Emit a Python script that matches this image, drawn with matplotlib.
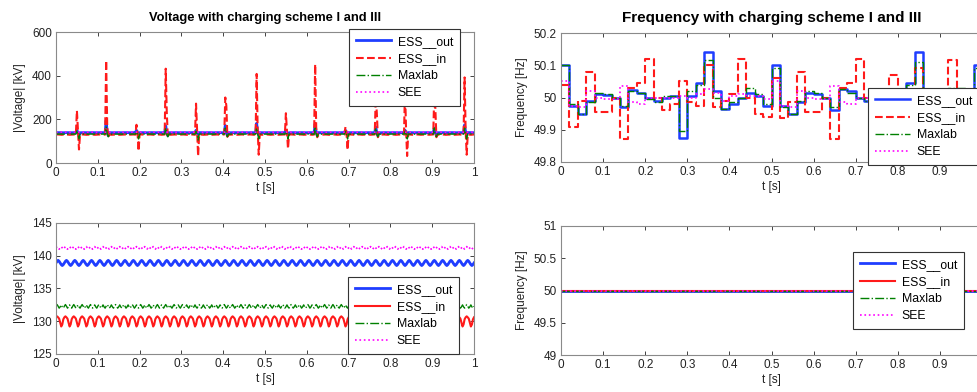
import matplotlib
matplotlib.use("Agg")
import matplotlib.pyplot as plt
import numpy as np
from matplotlib.ticker import FormatStrFormatter

plt.rcParams['font.family'] = ['Liberation Sans', 'DejaVu Sans']

# ---- voltage data ----
# one 20 ms ripple cycle per series, 8 samples
out_cycle = [138.9, 139.15, 139.3, 139.15, 138.9, 138.65, 138.5, 138.65]
in_cycle = [130.6, 130.75, 130.6, 130.4, 129.8, 129.2, 129.5, 130.3]
max_cycle = [132.3, 132.55, 132.3, 132.0, 132.2, 132.5, 132.2, 132.0]
see_cycle = [141.2, 141.4, 141.2, 141.0, 141.2, 141.4, 141.2, 141.0]

# switching spikes seen in the upper voltage plot
spike_t = [0.050, 0.120, 0.193, 0.263, 0.336, 0.405, 0.479,
           0.550, 0.620, 0.693, 0.764, 0.836, 0.905, 0.977]
in_up = [240, 470, 175, 432, 272, 300, 408, 228, 452, 165, 300, 340, 320, 392]
in_up2 = [150, 170, 140, 232, 150, 262, 150, 150, 160, 140, 230, 150, 252, 150]
in_down = [62, 115, 55, 120, 32, 120, 38, 65, 118, 60, 118, 32, 118, 38]
out_up = [150, 195, 150, 170, 150, 172, 182, 150, 180, 150, 165, 150, 160, 175]
out_down = [128, 125, 128, 125, 128, 125, 128, 128, 125, 128, 125, 128, 125, 128]
max_up = [150, 165, 145, 160, 145, 160, 160, 145, 165, 145, 160, 145, 160, 160]
max_down = [110, 120, 110, 120, 105, 120, 110, 110, 120, 110, 120, 105, 120, 110]

# ---- frequency data, 20 ms steps ----
f_edges = np.linspace(0, 1, 51)
f_out = [50.10, 49.975, 49.95, 49.99, 50.01, 50.008, 50.0, 49.97, 50.022, 50.015,
         50.0, 49.99, 50.0, 50.005, 49.875, 50.005, 50.045, 50.14, 50.02, 49.965,
         49.98, 50.0, 50.015, 50.005, 49.975, 50.10, 49.975, 49.95, 49.985, 50.015,
         50.01, 50.0, 49.96, 50.025, 50.02, 50.0, 49.99, 50.0, 50.005, 49.875,
         50.005, 50.045, 50.14, 50.02, 49.965, 49.98, 50.0, 50.015, 50.005, 50.10]
f_in = [50.04, 49.91, 49.99, 50.08, 49.955, 49.955, 50.0, 49.87, 50.03, 50.045,
        50.12, 50.0, 49.96, 49.98, 50.05, 49.985, 49.975, 50.10, 49.97, 49.99,
        50.01, 50.12, 50.0, 49.95, 49.94, 50.06, 49.935, 49.985, 50.078, 49.955,
        49.955, 50.0, 49.87, 50.03, 50.045, 50.12, 50.0, 49.96, 49.98, 50.07,
        49.985, 49.975, 50.09, 49.97, 49.99, 50.01, 50.115, 50.0, 49.95, 49.94]
f_max = [50.10, 49.98, 49.95, 49.985, 50.015, 50.01, 50.0, 49.975, 50.02, 50.015,
         49.995, 49.985, 50.005, 50.005, 49.895, 50.02, 50.04, 50.115, 50.0, 49.965,
         49.985, 50.0, 50.03, 50.01, 49.98, 50.09, 49.97, 49.95, 49.99, 50.02,
         50.015, 50.0, 49.97, 50.025, 50.015, 50.0, 49.99, 50.005, 50.005, 49.895,
         50.02, 50.04, 50.11, 50.0, 49.965, 49.985, 50.03, 50.03, 50.0, 50.09]
f_see = [50.05, 49.975, 49.97, 50.02, 50.0, 49.995, 49.995, 50.035, 49.985, 49.98,
         50.0, 50.0, 50.0, 50.0, 50.005, 50.0, 50.01, 50.025, 50.015, 49.99,
         50.005, 50.01, 50.005, 50.005, 49.995, 50.05, 49.975, 49.97, 50.02, 50.0,
         49.995, 49.995, 50.035, 49.985, 49.98, 50.0, 50.0, 50.0, 50.0, 50.005,
         50.0, 50.01, 50.025, 50.015, 49.99, 50.005, 50.01, 50.005, 50.005, 49.995]

# scheme III frequency: flat at nominal
t_flat = [0, 1]
f_flat = [50, 50]

labels = ['ESS__out', 'ESS__in', 'Maxlab', 'SEE']
c_out, c_in, c_max, c_see = '#1f3dff', '#ff1a1a', '#008000', '#ff00ff'

# sample grid for voltage: 2.5 ms, 8 samples per ripple cycle
t = np.linspace(0, 1, 401)


def ripple(cycle):
    return np.tile(cycle, 51)[:len(t)].astype(float)


def with_spikes(y, up, down, up2=None):
    y = y.copy()
    for k, ts in enumerate(spike_t):
        i = int(round(ts / 0.0025))
        y[i] = up[k]
        y[i + 1] = up2[k] if up2 is not None else y[i + 1]
        y[i + 2] = down[k]
    return y


fig = plt.figure(figsize=(9.77, 3.92), dpi=100)
W, H = 977.0, 392.0


def px_axes(l, t_, r, b):
    return fig.add_axes([l / W, 1 - b / H, (r - l) / W, (b - t_) / H])


def style(ax, ylim, yticks, ylabel, xmax_tick=1.0):
    ax.set_xlim(0, 1)
    ax.set_xticks(np.round(np.arange(0, xmax_tick + 0.01, 0.1), 1))
    ax.xaxis.set_major_formatter(FormatStrFormatter('%g'))
    ax.set_ylim(*ylim)
    ax.set_yticks(yticks)
    ax.yaxis.set_major_formatter(FormatStrFormatter('%g'))
    ax.tick_params(direction='in', length=3, width=0.6, top=True, right=True,
                   labelsize=8.5, colors='#222222', pad=3)
    for s in ax.spines.values():
        s.set_color('#8a8a8a')
        s.set_linewidth(0.8)
    ax.set_xlabel('t [s]', fontsize=8.5, color='#222222', labelpad=2)
    ax.set_ylabel(ylabel, fontsize=8.5, color='#222222', labelpad=4)


def add_legend(ax, x, y):
    leg = ax.legend(loc='upper left', bbox_to_anchor=(x / W, 1 - y / H),
                    bbox_transform=fig.transFigure, fontsize=8.8, frameon=True,
                    fancybox=False, framealpha=1, edgecolor='#333333',
                    borderaxespad=0, handlelength=2.9, handletextpad=0.55,
                    labelspacing=0.42, borderpad=0.55)
    leg.get_frame().set_linewidth(0.8)


# top left: voltage
ax1 = px_axes(56, 32, 474, 163)
ax1.plot(t, with_spikes(ripple(out_cycle), out_up, out_down), color=c_out, lw=2.0, label=labels[0])
ax1.plot(t, with_spikes(ripple(in_cycle), in_up, in_down, in_up2), color=c_in, lw=1.5, ls='--', label=labels[1])
ax1.plot(t, with_spikes(ripple(max_cycle), max_up, max_down), color=c_max, lw=1.0, ls='-.', label=labels[2])
ax1.plot(t, ripple(see_cycle), color=c_see, lw=1.2, ls=':', label=labels[3])
style(ax1, (0, 600), [0, 200, 400, 600], '|Voltage| [kV]')
ax1.set_title('Voltage with charging scheme I and III', fontsize=9.3, fontweight='bold', pad=8)
add_legend(ax1, 349, 29)

# top right: frequency (axes run past the right edge of the figure)
ax2 = px_axes(561, 33, 982, 162)
for vals, c, ls, lw, lab in [(f_out, c_out, '-', 1.8, labels[0]), (f_in, c_in, '--', 1.5, labels[1]),
                             (f_max, c_max, '-.', 1.0, labels[2]), (f_see, c_see, ':', 1.2, labels[3])]:
    ax2.step(f_edges, np.append(vals, vals[-1]), where='post', color=c, ls=ls, lw=lw, label=lab)
style(ax2, (49.8, 50.2), [49.8, 49.9, 50, 50.1, 50.2], 'Frequency [Hz]', xmax_tick=0.9)
ax2.set_title('Frequency with charging scheme I and III', fontsize=11, fontweight='bold', pad=8)
add_legend(ax2, 868, 88)

# bottom left: voltage ripple
ax3 = px_axes(56, 223, 474, 354)
ax3.plot(t, ripple(out_cycle), color=c_out, lw=2.0, label=labels[0])
ax3.plot(t, ripple(in_cycle), color=c_in, lw=1.5, label=labels[1])
ax3.plot(t, ripple(max_cycle), color=c_max, lw=1.0, ls='-.', label=labels[2])
ax3.plot(t, ripple(see_cycle), color=c_see, lw=1.2, ls=':', label=labels[3])
style(ax3, (125, 145), [125, 130, 135, 140, 145], '|Voltage| [kV]')
add_legend(ax3, 348, 277)

# bottom right: flat frequency
ax4 = px_axes(561, 226, 982, 355)
ax4.plot(t_flat, f_flat, color=c_out, lw=2.0, label=labels[0])
ax4.plot(t_flat, f_flat, color=c_in, lw=1.5, label=labels[1])
ax4.plot(t_flat, f_flat, color=c_max, lw=1.0, ls='-.', label=labels[2])
ax4.plot(t_flat, f_flat, color=c_see, lw=1.2, ls=':', label=labels[3])
style(ax4, (49, 51), [49, 49.5, 50, 50.5, 51], 'Frequency [Hz]', xmax_tick=0.9)
add_legend(ax4, 853, 252)

fig.savefig('out.png', dpi=100)
